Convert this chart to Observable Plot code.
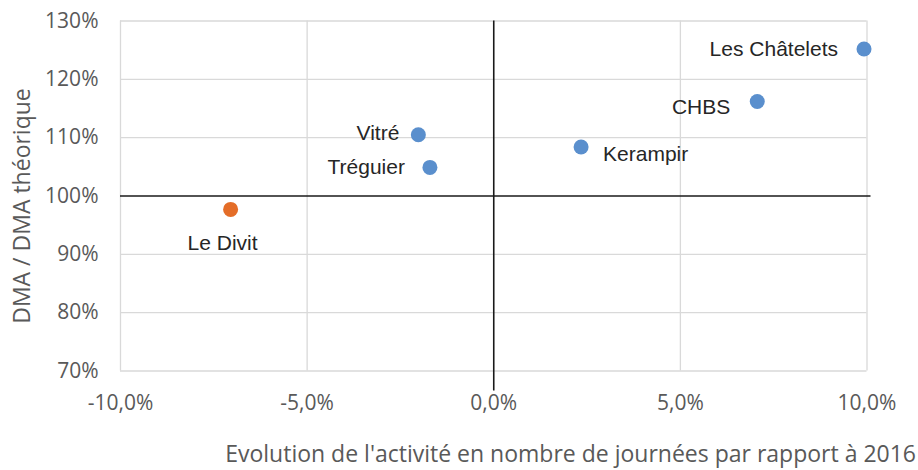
<!DOCTYPE html>
<html><head><meta charset="utf-8">
<script src="https://cdn.jsdelivr.net/npm/d3@7"></script>
<script src="https://cdn.jsdelivr.net/npm/@observablehq/plot@0.6"></script>
<style>body{margin:0;background:#fff}</style>
</head><body><div id="chart"></div>
<script>
const names = ["Les Châtelets","CHBS","Kerampir","Vitré","Tréguier","Le Divit"];
const activity = [9.92, 7.06, 2.34, -2.02, -1.71, -7.05];      // % évolution
const dmaRatio = [125.2, 116.2, 108.4, 110.5, 104.9, 97.7];     // DMA / DMA théorique (%)
const groups = ["bleu","bleu","bleu","bleu","bleu","orange"];
const xTicks = [-10, -5, 0, 5, 10];
const yTicks = [70, 80, 90, 100, 110, 120, 130];
const xTitle = "Evolution de l'activité en nombre de journées par rapport à 2016";
const yTitle = "DMA / DMA théorique";

const data = names.map((n, i) => ({name: n, x: activity[i], y: dmaRatio[i], g: groups[i]}));
const labelStyle = {
  "Les Châtelets": {textAnchor: "end", dx: -26, dy: 0},
  "CHBS": {textAnchor: "end", dx: -27, dy: 6},
  "Kerampir": {textAnchor: "start", dx: 22, dy: 7},
  "Vitré": {textAnchor: "end", dx: -19, dy: -1},
  "Tréguier": {textAnchor: "end", dx: -25, dy: 0},
  "Le Divit": {textAnchor: "middle", dx: -8, dy: 34}
};
const fmtX = d => d.toFixed(1).replace(".", ",") + "%";
const tickFont = "Open Sans, sans-serif";

const labelMarks = data.map(d => Plot.text([d], {
  x: "x", y: "y", text: "name",
  textAnchor: labelStyle[d.name].textAnchor,
  dx: labelStyle[d.name].dx, dy: labelStyle[d.name].dy,
  fill: "#262626", fontSize: 21, fontFamily: "Liberation Sans, Arial, sans-serif"
}));

const chart = Plot.plot({
  width: 918, height: 470,
  marginLeft: 120, marginRight: 51.5, marginTop: 20.5, marginBottom: 99.5,
  style: {background: "#fff"},
  x: {domain: [-10, 10], ticks: xTicks},
  y: {domain: [70, 130], ticks: yTicks},
  color: {domain: ["bleu","orange"], range: ["#5a8fcd", "#e46d28"]},
  marks: [
    Plot.gridX(xTicks.filter(t => t !== 0), {stroke: "#d9d9d9", strokeOpacity: 1, strokeWidth: 1.3}),
    Plot.gridY(yTicks.filter(t => t !== 100), {stroke: "#d9d9d9", strokeOpacity: 1, strokeWidth: 1.3}),
    Plot.ruleY([100], {stroke: "#1a1a1a", strokeWidth: 1.6, insetRight: -4}),
    Plot.ruleX([0], {stroke: "#1a1a1a", strokeWidth: 1.6, insetBottom: -20}),
    Plot.axisX({ticks: xTicks, tickSize: 0, tickPadding: 24, tickFormat: fmtX, label: null,
      fontSize: 21, fontFamily: tickFont, fill: "#595959"}),
    Plot.axisY({ticks: yTicks, tickSize: 0, tickPadding: 22, tickFormat: d => d + "%", label: null,
      fontSize: 21, fontFamily: tickFont, fill: "#595959"}),
    Plot.dot(data, {x: "x", y: "y", fill: "g", r: 7.5}),
    ...labelMarks,
    Plot.text([xTitle], {frameAnchor: "bottom-right", textAnchor: "end", dx: 49, dy: 91,
      fontSize: 23, fontFamily: tickFont, fill: "#595959"}),
    Plot.text([yTitle], {frameAnchor: "left", textAnchor: "middle", rotate: -90, dx: -98, dy: 10,
      fontSize: 23, fontFamily: tickFont, fill: "#595959"})
  ]
});
document.getElementById("chart").appendChild(chart);
</script>
</body></html>
